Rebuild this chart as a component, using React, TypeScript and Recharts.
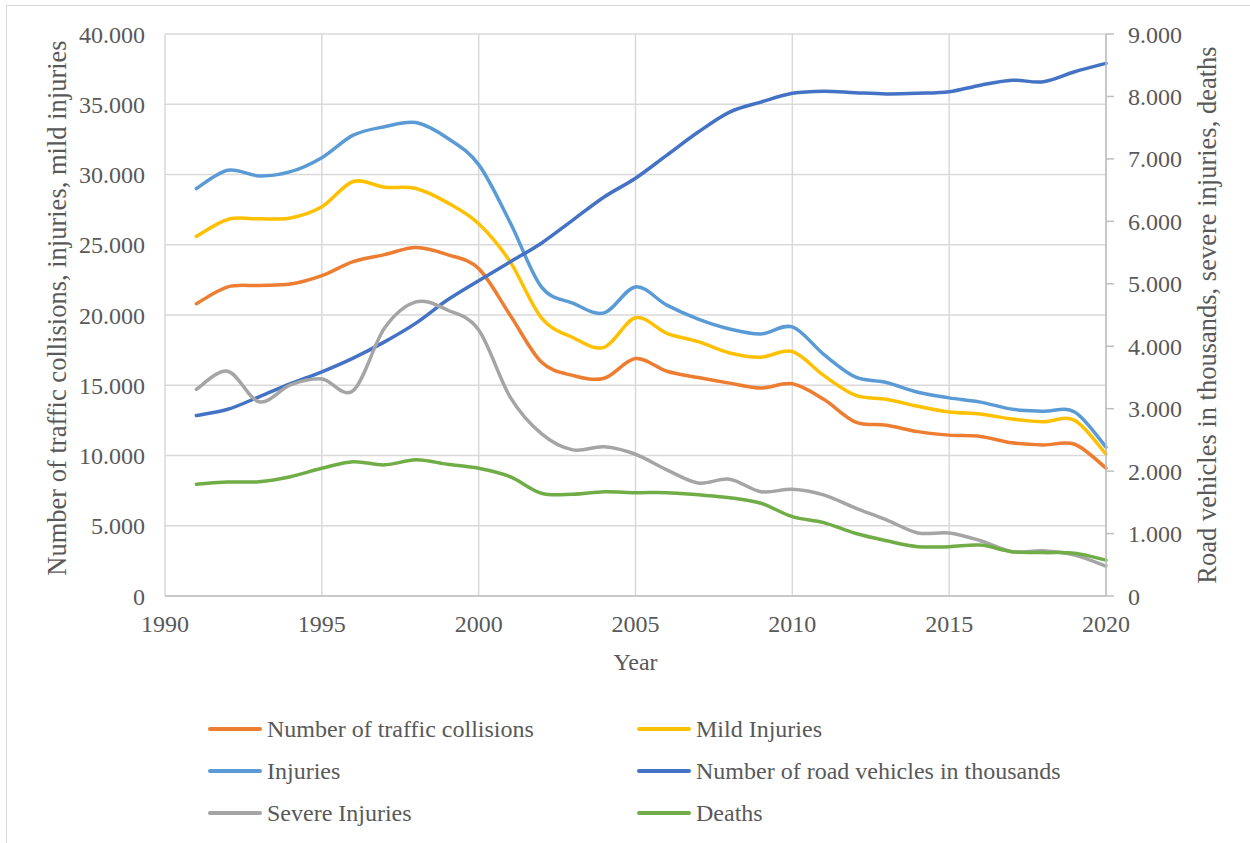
import { CartesianGrid, Line, LineChart, XAxis, YAxis } from "recharts";

const years = [
  1991, 1992, 1993, 1994, 1995, 1996, 1997, 1998, 1999, 2000, 2001, 2002, 2003, 2004, 2005,
  2006, 2007, 2008, 2009, 2010, 2011, 2012, 2013, 2014, 2015, 2016, 2017, 2018, 2019, 2020,
];

// left axis
const collisions = [
  20800, 22000, 22100, 22200, 22800, 23800, 24300, 24800, 24300, 23300, 20000, 16650, 15700, 15500, 16900,
  16000, 15550, 15150, 14800, 15100, 14000, 12400, 12150, 11700, 11450, 11350, 10900, 10750, 10800, 9100,
];
const mildInjuries = [
  25600, 26800, 26850, 26900, 27700, 29500, 29100, 29000, 28000, 26500, 23800, 19800, 18400, 17700, 19800,
  18700, 18100, 17300, 17000, 17400, 15700, 14300, 14000, 13500, 13100, 12950, 12600, 12400, 12500, 10100,
];
const injuries = [
  29000, 30300, 29900, 30200, 31200, 32800, 33400, 33700, 32600, 30700, 26600, 22000, 20850, 20150, 22000,
  20700, 19700, 19000, 18650, 19150, 17200, 15600, 15200, 14500, 14100, 13800, 13300, 13150, 13100, 10600,
];

// right axis
const vehicles = [
  2890, 2990, 3190, 3400, 3590, 3810, 4070, 4370, 4740, 5050, 5350, 5650, 6020, 6390, 6690,
  7060, 7430, 7750, 7910, 8050, 8085, 8060, 8040, 8050, 8075, 8180, 8260, 8235, 8395, 8530,
];
const severeInjuries = [
  3310, 3600, 3110, 3380, 3475, 3290, 4290, 4710, 4580, 4260, 3190, 2600, 2340, 2390, 2270,
  2020, 1810, 1870, 1670, 1710, 1620, 1410, 1220, 1010, 1010, 885, 710, 725, 655, 480,
];
const deaths = [
  1790, 1825, 1830, 1910, 2045, 2150, 2100, 2180, 2110, 2045, 1910, 1645, 1630, 1670, 1655,
  1655, 1620, 1575, 1485, 1270, 1175, 1005, 885, 790, 790, 815, 710, 695, 685, 575,
];

const xTicks = [1990, 1995, 2000, 2005, 2010, 2015, 2020];
const leftTicks = [0, 5000, 10000, 15000, 20000, 25000, 30000, 35000, 40000];
const rightTicks = [0, 1000, 2000, 3000, 4000, 5000, 6000, 7000, 8000, 9000];

const series = [
  { key: "collisions", name: "Number of traffic collisions", color: "#ED7D31", axis: "left" },
  { key: "mild", name: "Mild Injuries", color: "#FFC000", axis: "left" },
  { key: "injuries", name: "Injuries", color: "#5B9BD5", axis: "left" },
  { key: "vehicles", name: "Number of road vehicles in thousands", color: "#4472C4", axis: "right" },
  { key: "severe", name: "Severe Injuries", color: "#A5A5A5", axis: "right" },
  { key: "deaths", name: "Deaths", color: "#70AD47", axis: "right" },
];

const data = years.map((year, i) => ({
  year,
  collisions: collisions[i],
  mild: mildInjuries[i],
  injuries: injuries[i],
  vehicles: vehicles[i],
  severe: severeInjuries[i],
  deaths: deaths[i],
}));

const FONT = '"Liberation Serif", "Times New Roman", serif';
const INK = "#595959";

// 1.000 style thousands separator
const fmt = (v: number) =>
  v >= 1000 ? `${Math.floor(v / 1000)}.${String(v % 1000).padStart(3, "0")}` : String(v);

// smoothed line through every point (uniform Catmull-Rom as cubic beziers)
const smooth = (context: any) => {
  let xs: number[] = [];
  let ys: number[] = [];
  return {
    areaStart() {},
    areaEnd() {},
    lineStart() {
      xs = [];
      ys = [];
    },
    point(x: number, y: number) {
      xs.push(+x);
      ys.push(+y);
    },
    lineEnd() {
      const n = xs.length;
      if (!n) return;
      context.moveTo(xs[0], ys[0]);
      for (let i = 0; i < n - 1; i++) {
        const a = Math.max(i - 1, 0);
        const d = Math.min(i + 2, n - 1);
        context.bezierCurveTo(
          xs[i] + (xs[i + 1] - xs[a]) / 6,
          ys[i] + (ys[i + 1] - ys[a]) / 6,
          xs[i + 1] - (xs[d] - xs[i]) / 6,
          ys[i + 1] - (ys[d] - ys[i]) / 6,
          xs[i + 1],
          ys[i + 1]
        );
      }
    },
  };
};

const VerticalTitle = ({ viewBox, text, posX, shiftY = 0 }: any) => {
  const cy = (viewBox ? viewBox.y + viewBox.height / 2 : 315) + shiftY;
  return (
    <text
      x={posX}
      y={cy}
      transform={`rotate(-90 ${posX} ${cy})`}
      textAnchor="middle"
      dominantBaseline="central"
      fill={INK}
      fontSize={26.5}
      fontFamily={FONT}
    >
      {text}
    </text>
  );
};

const XTitle = ({ viewBox }: any) => {
  const cx = viewBox ? viewBox.x + viewBox.width / 2 : 636;
  return (
    <text x={cx} y={670} textAnchor="middle" fill={INK} fontSize={24} fontFamily={FONT}>
      Year
    </text>
  );
};

function ChartLegend() {
  return (
    <div
      style={{
        position: "absolute",
        left: 208,
        top: 713,
        display: "grid",
        gridTemplateColumns: "429px 429px",
        rowGap: 10,
        fontFamily: FONT,
        fontSize: 24,
        color: INK,
        whiteSpace: "nowrap",
      }}
    >
      {series.map((s) => (
        <div key={s.key} style={{ display: "flex", alignItems: "center", height: 32 }}>
          <span
            style={{
              display: "inline-block",
              width: 54,
              height: 4,
              borderRadius: 2,
              background: s.color,
              marginRight: 5,
            }}
          />
          {s.name}
        </div>
      ))}
    </div>
  );
}

export default function App() {
  const tickStyle = { fill: INK, fontSize: 24, fontFamily: FONT };
  return (
    <div style={{ position: "absolute", left: 0, top: 0, width: 1250, height: 843, background: "#fff" }}>
      <div
        style={{
          position: "absolute",
          left: 6,
          top: 5,
          width: 1244,
          height: 838,
          borderLeft: "1.5px solid #d9d9d9",
          borderTop: "1.5px solid #d9d9d9",
          boxSizing: "border-box",
        }}
      />
      <div style={{ position: "absolute", left: 0, top: 0 }}>
        <LineChart
          width={1250}
          height={843}
          data={data}
          margin={{ top: 34, right: 0, bottom: 177, left: 0 }}
        >
          <CartesianGrid yAxisId="left" stroke="#d9d9d9" strokeWidth={1.5} />
          <XAxis
            dataKey="year"
            type="number"
            domain={[1990, 2020]}
            ticks={xTicks}
            height={70}
            tick={tickStyle}
            tickLine={false}
            tickSize={0}
            tickMargin={19}
            axisLine={{ stroke: "#bfbfbf", strokeWidth: 1.5 }}
            label={<XTitle />}
          />
          <YAxis
            yAxisId="left"
            domain={[0, 40000]}
            ticks={leftTicks}
            width={165}
            tick={tickStyle}
            tickFormatter={fmt}
            tickLine={false}
            tickSize={0}
            tickMargin={20}
            axisLine={false}
            label={
              <VerticalTitle posX={57} shiftY={-7} text="Number of traffic collisions, injuries, mild injuries" />
            }
          />
          <YAxis
            yAxisId="right"
            orientation="right"
            domain={[0, 9000]}
            ticks={rightTicks}
            width={144}
            tick={{ ...tickStyle, textAnchor: "start" }}
            tickFormatter={fmt}
            tickLine={{ stroke: "#bfbfbf", strokeWidth: 1.5 }}
            tickSize={8}
            tickMargin={14}
            axisLine={{ stroke: "#bfbfbf", strokeWidth: 1.5 }}
            label={<VerticalTitle posX={1207} text="Road vehicles in thousands, severe injuries, deaths" />}
          />
          {series.map((s) => (
            <Line
              key={s.key}
              yAxisId={s.axis}
              dataKey={s.key}
              name={s.name}
              type={smooth as any}
              stroke={s.color}
              strokeWidth={3.5}
              strokeLinecap="round"
              dot={false}
              activeDot={false}
              isAnimationActive={false}
            />
          ))}
        </LineChart>
      </div>
      <ChartLegend />
    </div>
  );
}
